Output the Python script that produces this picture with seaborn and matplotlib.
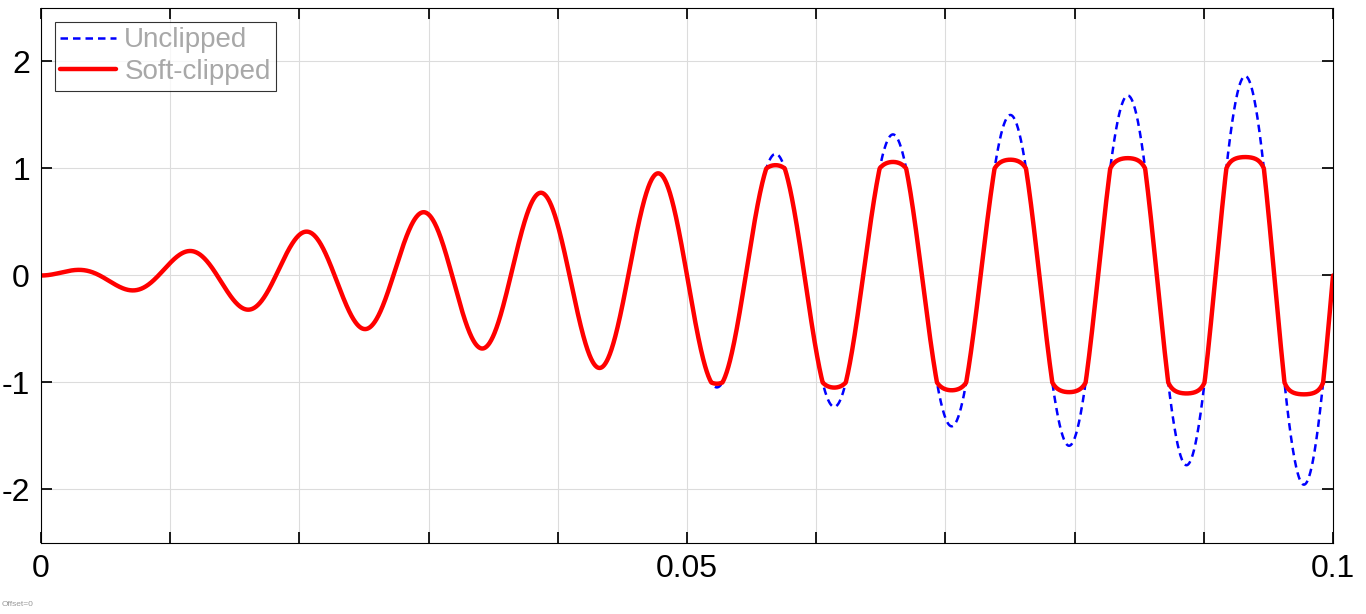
import numpy as np
import matplotlib
matplotlib.use("Agg")
import matplotlib.pyplot as plt
import seaborn as sns
import pandas as pd

sns.set_theme(style="white")
plt.rcParams['font.family'] = ['Arial', 'Liberation Sans', 'DejaVu Sans']

# signal: ramped sine, 110 Hz, amplitude ~20*t
freq_hz = 110.0
ramp_per_s = 20.0
clip_level = 1.0
clip_head = 0.13
t = np.linspace(0, 0.1, 4001)
unclipped = ramp_per_s * t * np.sin(2 * np.pi * freq_hz * t)
a = np.abs(unclipped)
soft = np.where(a <= clip_level, a, clip_level + clip_head * (1 - np.exp(-2.0 * (a - clip_level))))
clipped = np.sign(unclipped) * soft

df = pd.DataFrame({"t": t, "Unclipped": unclipped, "Soft-clipped": clipped})

fig = plt.figure(figsize=(13.66, 6.14), dpi=100)
ax = fig.add_axes([41/1366, 1-543/614, 1292/1366, 535/614])
sns.lineplot(data=df, x="t", y="Unclipped", ax=ax, color="blue", lw=1.8, linestyle=(0, (3, 2)), label="Unclipped")
sns.lineplot(data=df, x="t", y="Soft-clipped", ax=ax, color="red", lw=3.2, label="Soft-clipped")

ax.set_xlim(0, 0.1)
ax.set_ylim(-2.5, 2.5)
ax.set_xticks(np.arange(0, 0.1001, 0.01))
ax.set_xticklabels(["0", "", "", "", "", "0.05", "", "", "", "", "0.1"])
ax.set_yticks([-2, -1, 0, 1, 2])
ax.set_yticklabels(["-2", "-1", "0", "1", "2"])
ax.grid(True, color="#dcdcdc", lw=0.8)
ax.set_xlabel("")
ax.set_ylabel("")
ax.tick_params(axis="both", labelsize=23, labelcolor="black", direction="in", length=8, color="black",
               top=True, right=True, bottom=True, left=True, pad=8)
for s in ax.spines.values():
    s.set_color("black")
    s.set_linewidth(0.8)
leg = ax.legend(loc="upper left", fontsize=20, frameon=True, fancybox=False,
                borderpad=0.2, labelspacing=0.2, handlelength=2.0, handletextpad=0.3,
                borderaxespad=0.5)
leg.get_frame().set_edgecolor("black")
leg.get_frame().set_linewidth(0.8)
for txt in leg.get_texts():
    txt.set_color("#a8a8a8")
fig.text(2/1366, 1-604/614, "Offset=0", fontsize=6, color="#999999", va="center")
fig.savefig("out.png", dpi=100)
